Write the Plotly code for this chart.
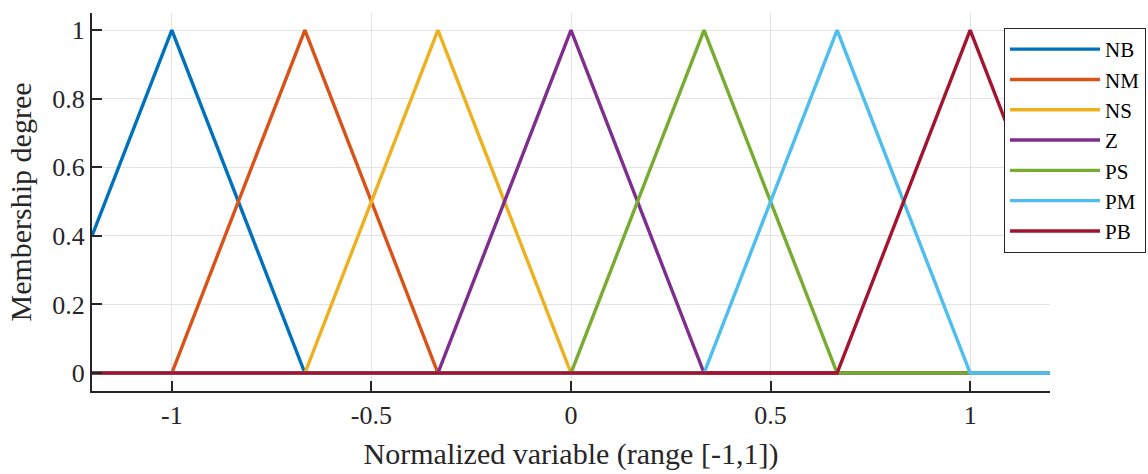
import plotly.graph_objects as go

# Membership function breakpoints
names = ["NB", "NM", "NS", "Z", "PS", "PM", "PB"]
colors = ["#0072BD", "#D95319", "#EDB120", "#7E2F8E", "#77AC30", "#4DBEEE", "#A2142F"]

nb_x = [-1.2, -1.0, -2/3, 1.2]
nb_y = [0.4, 1.0, 0.0, 0.0]
nm_x = [-1.2, -1.0, -2/3, -1/3, 1.2]
nm_y = [0.0, 0.0, 1.0, 0.0, 0.0]
ns_x = [-1.2, -2/3, -1/3, 0.0, 1.2]
ns_y = [0.0, 0.0, 1.0, 0.0, 0.0]
z_x = [-1.2, -1/3, 0.0, 1/3, 1.2]
z_y = [0.0, 0.0, 1.0, 0.0, 0.0]
ps_x = [-1.2, 0.0, 1/3, 2/3, 1.2]
ps_y = [0.0, 0.0, 1.0, 0.0, 0.0]
pm_x = [-1.2, 1/3, 2/3, 1.0, 1.2]
pm_y = [0.0, 0.0, 1.0, 0.0, 0.0]
pb_x = [-1.2, 2/3, 1.0, 1.2]
pb_y = [0.0, 0.0, 1.0, 0.4]

xs = [nb_x, nm_x, ns_x, z_x, ps_x, pm_x, pb_x]
ys = [nb_y, nm_y, ns_y, z_y, ps_y, pm_y, pb_y]

x_ticks = [-1, -0.5, 0, 0.5, 1]
x_ticktext = ["-1", "-0.5", "0", "0.5", "1"]
y_ticks = [0, 0.2, 0.4, 0.6, 0.8, 1]
y_ticktext = ["0", "0.2", "0.4", "0.6", "0.8", "1"]

font_family = "Liberation Serif, Times New Roman, serif"
txt = "#262626"

fig = go.Figure()
for n, c, x, y in zip(names, colors, xs, ys):
    fig.add_trace(go.Scatter(x=x, y=y, mode="lines", name=n,
                             line=dict(color=c, width=3.4), cliponaxis=False))

fig.update_layout(
    width=1148, height=474,
    margin=dict(l=92, r=98, t=13, b=83, autoexpand=False),
    paper_bgcolor="white", plot_bgcolor="white",
    font=dict(family=font_family, size=26, color=txt),
    showlegend=True,
    legend=dict(xref="container", yref="container",
                x=1004/1148, y=1 - 28/474, xanchor="left", yanchor="top",
                bgcolor="white", bordercolor="#262626", borderwidth=1,
                font=dict(family=font_family, size=21, color="black"),
                tracegroupgap=0, itemwidth=90),
)
fig.update_xaxes(
    range=[-1.2, 1.2], tickvals=x_ticks, ticktext=x_ticktext,
    showgrid=True, gridcolor="#e3e3e3", gridwidth=1,
    showline=True, linecolor=txt, linewidth=2,
    ticks="inside", ticklen=10, tickwidth=2, tickcolor=txt,
    zeroline=False, mirror=False,
    title=dict(text="Normalized variable (range [-1,1])", font=dict(size=30), standoff=14),
    tickfont=dict(size=26),
)
fig.update_yaxes(
    range=[-0.0525, 1.05], tickvals=y_ticks, ticktext=y_ticktext,
    showgrid=True, gridcolor="#e3e3e3", gridwidth=1,
    showline=True, linecolor=txt, linewidth=2,
    ticks="inside", ticklen=10, tickwidth=2, tickcolor=txt,
    zeroline=False, mirror=False,
    title=dict(text="Membership degree", font=dict(size=30), standoff=12),
    tickfont=dict(size=26),
)

fig.write_html("out.html")
